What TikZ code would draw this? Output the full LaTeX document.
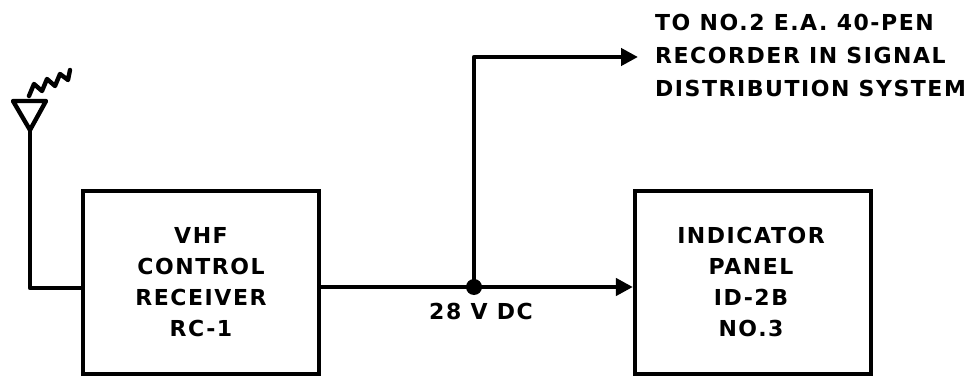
\documentclass[tikz,border=0pt]{standalone}
\usepackage{fontspec}
\newfontfamily\labfont{DejaVu Sans}[BoldFont={DejaVu Sans Bold},LetterSpace=7]
\usetikzlibrary{arrows.meta,calc}
\begin{document}
\begin{tikzpicture}[x=1pt,y=-1pt,
  wire/.style={line width=4.4pt,line cap=round,line join=round},
  blockbox/.style={draw,line width=4.2pt,minimum width=236pt,minimum height=183pt,inner sep=0pt},
  lab/.style={font=\labfont\bfseries\fontsize{22}{31}\selectfont,align=center},
  tip/.style={-{Triangle[length=17pt,width=17pt]}}]
\useasboundingbox (0,0) rectangle (975,377);
\node[blockbox] (rc) at (201,282.5) {};
\node[blockbox] (ip) at (753,282.5) {};
\node[lab] (rctxt) at (201,282) {VHF\\CONTROL\\RECEIVER\\RC-1};
\node[lab] (iptxt) at (751,282) {INDICATOR\\PANEL\\ID-2B\\NO.3};
\coordinate (j) at (474,287);
\coordinate (up) at (474,57);
\coordinate (ant) at (30,130);
\coordinate (feed) at (83,288);
\node[lab,font=\labfont\bfseries\fontsize{22}{33}\selectfont,align=left,anchor=west,inner xsep=17pt] (dest) at (638,55) {TO NO.2 E.A. 40-PEN\\RECORDER IN SIGNAL\\DISTRIBUTION SYSTEM};
\node[lab,font=\labfont\bfseries\fontsize{22}{24}\selectfont] (volt) at (481,311) {28 V DC};
% antenna
\draw[wire] (13,101) -- (46,101) -- (ant) -- cycle;
\draw[wire] (29,96) -- (34,84) -- (42,91) -- (47,79) -- (55,86) -- (60,74) -- (68,80) -- (70,70);
\draw[wire] (ant) |- (feed -| rc.west);
% main lines
\draw[wire] (j -| rc.east) -- (j);
\draw[wire,tip] (j) -- (j -| ip.west);
\draw[wire,tip] (j) -- (up) -- (up -| dest.west);
\fill (j) circle (8pt);
\end{tikzpicture}
\end{document}
